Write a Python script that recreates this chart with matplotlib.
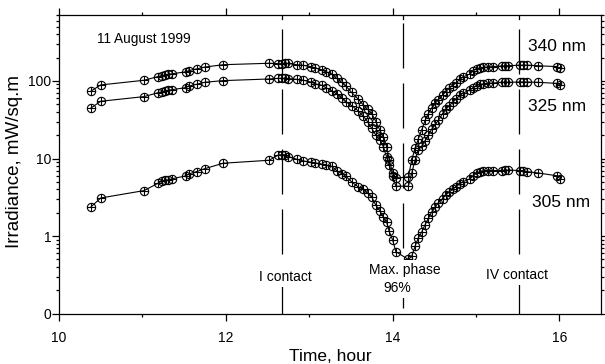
from matplotlib import pyplot as plt
from matplotlib.ticker import FixedLocator, LogLocator, NullFormatter

plt.rcParams['font.family'] = ['Liberation Sans', 'DejaVu Sans']

# time of measurement, hour
time_h = [10.38, 10.50, 11.02, 11.19, 11.23, 11.27, 11.31, 11.36, 11.52, 11.56,
          11.65, 11.75, 11.97, 12.52, 12.63, 12.67, 12.71, 12.75,
          12.85, 12.93, 13.02, 13.07, 13.15, 13.20, 13.27, 13.33, 13.39, 13.44,
          13.51, 13.59, 13.65, 13.70, 13.75, 13.80, 13.85, 13.89, 13.93, 13.96,
          14.00, 14.04,
          14.19, 14.23, 14.27, 14.31, 14.35, 14.39, 14.43, 14.47, 14.51, 14.55,
          14.60, 14.64, 14.68, 14.72, 14.76, 14.81, 14.85, 14.93, 14.97, 15.01,
          15.05, 15.09, 15.14, 15.20, 15.31, 15.35, 15.39, 15.53, 15.57, 15.61,
          15.75, 15.97, 16.01]

irr_340 = [73.6, 88.8, 102, 114, 117, 119, 122, 124, 131, 136,
           143, 151, 162, 169, 167, 167, 169, 168,
           162, 159, 153, 148, 139, 131, 123, 108, 96, 86,
           71, 58, 49, 43, 38, 30, 23, 18.8, 14.2, 9.6,
           6.6, 5.6,
           5.8, 9.6, 13.5, 18, 23.4, 31, 38, 45, 51.5, 57,
           66, 73, 81, 87, 94, 106, 113, 123, 136, 143,
           148, 150, 151, 153, 156, 156, 157, 160, 160, 160,
           157, 153, 146]

irr_325 = [44.5, 54.7, 62.8, 70.6, 72.1, 74.3, 75.9, 77.3, 82, 86.2,
           90.6, 96.2, 101, 106, 108, 108, 108, 107,
           105, 102, 97, 92, 88, 82, 75, 68, 61, 54,
           48, 41, 35, 30, 24.5, 20, 17.4, 14.2, 10.4, 8.3,
           5.9, 4.4,
           4.4, 6.5, 9.5, 13, 14.5, 17, 20, 24, 27.5, 31,
           38, 43, 48, 53, 58, 66, 70, 77, 82, 87,
           90, 92, 93, 94, 96, 96, 96, 97, 97, 97,
           96, 93, 89]

irr_305 = [2.36, 3.10, 3.86, 4.81, 5.1, 5.25, 5.30, 5.5, 5.97, 6.34,
           6.78, 7.41, 8.70, 9.5, 11.1, 11.2, 11.2, 10.6,
           9.8, 9.3, 9.0, 8.8, 8.5, 8.2, 7.9, 7.0, 6.4, 5.9,
           5.0, 4.3, 4.0, 3.6, 3.2, 2.5, 2.1, 1.75, 1.5, 1.15,
           0.9, 0.63,
           0.50, 0.55, 0.74, 0.95, 1.13, 1.4, 1.7, 2.05, 2.38, 2.7,
           3.05, 3.4, 3.7, 4.0, 4.35, 4.75, 5.05, 5.5, 6.0, 6.5,
           6.8, 7.0, 7.0, 7.0, 7.0, 7.1, 7.1, 7.0, 7.0, 6.8,
           6.5, 6.0, 5.5]

# eclipse phases: I contact, maximum phase, IV contact
contact_times = [12.674, 14.125, 15.516]
contact_tops = [0.953, 0.973, 0.953]

fig = plt.figure(figsize=(6.05, 3.64), dpi=100)
ax = fig.add_axes([0.0975, 0.1382, 0.8959, 0.8206])

for irr in [irr_340, irr_325, irr_305]:
    ax.plot(time_h, irr, color='black', lw=0.8, marker='o', ms=6,
            mfc='none', mec='black', mew=0.8)
    ax.plot(time_h, irr, ls='none', color='black', marker='+', ms=6, mew=0.8)

# dashed lines for the contacts, drawn from the top down
for t, top in zip(contact_times, contact_tops):
    ax.axvline(t, ymin=top, ymax=0, color='black', lw=0.9, ls=(0, (36, 12)))
    ax.axvline(t, ymin=0.985, ymax=1, color='black', lw=0.9)

ax.set_yscale('log')
ax.set_xlim(10, 16.5)
ax.set_ylim(0.1, 708)

ax.xaxis.set_major_locator(FixedLocator([10, 12, 14, 16]))
ax.xaxis.set_minor_locator(FixedLocator([11, 13, 15]))
ax.yaxis.set_major_locator(FixedLocator([0.1, 1, 10, 100]))
ax.set_yticklabels(['0', '1', '10', '100'])
ax.yaxis.set_minor_locator(LogLocator(base=10, subs=range(2, 10)))
ax.yaxis.set_minor_formatter(NullFormatter())

ax.tick_params(which='both', direction='out', top=True, right=True,
               labelsize=10, width=0.9)
ax.tick_params(which='major', length=5)
ax.tick_params(which='minor', length=2.5)
ax.tick_params(axis='x', which='major', pad=7.5)
ax.tick_params(axis='y', which='major', pad=0.5)
for s in ax.spines.values():
    s.set_linewidth(0.9)

ax.set_xlabel('Time, hour', fontsize=12.5)
ax.xaxis.set_label_coords(0.5, -0.118)
ax.set_ylabel('Irradiance, mW/sq.m', fontsize=13.5)
ax.yaxis.set_label_coords(-0.066, 0.511)

ax.text(0.070, 0.920, '11 August 1999', transform=ax.transAxes,
        fontsize=9.8, va='center')
ax.text(0.865, 0.893, '340 nm', transform=ax.transAxes, fontsize=12.5,
        va='center')
ax.text(0.865, 0.695, '325 nm', transform=ax.transAxes, fontsize=12.5,
        va='center', bbox=dict(fc='white', ec='none', pad=1))
ax.text(0.873, 0.371, '305 nm', transform=ax.transAxes, fontsize=12.5,
        va='center')

box = dict(fc='white', ec='none', pad=2)
ax.text(0.417, 0.123, 'I contact', transform=ax.transAxes, fontsize=10,
        ha='center', va='center', bbox=box)
ax.text(0.638, 0.146, 'Max. phase', transform=ax.transAxes, fontsize=10,
        ha='center', va='center', bbox=box)
ax.text(0.625, 0.086, '96%', transform=ax.transAxes, fontsize=10,
        ha='center', va='center', bbox=box)
ax.text(0.845, 0.130, 'IV contact', transform=ax.transAxes, fontsize=10,
        ha='center', va='center', bbox=box)

fig.savefig('out.png', dpi=100)
